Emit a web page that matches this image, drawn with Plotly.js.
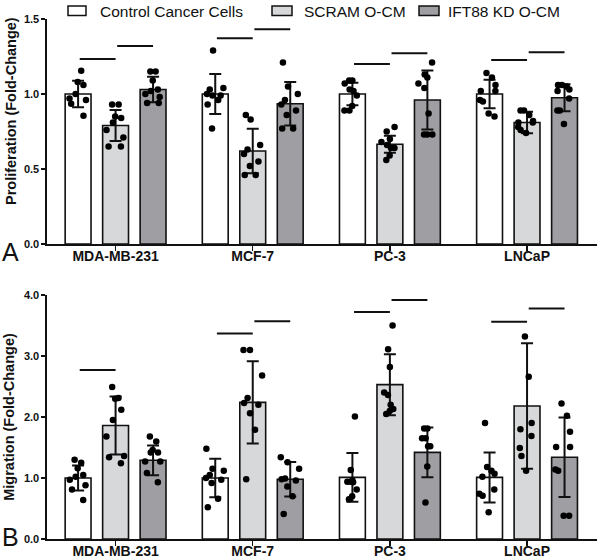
<!DOCTYPE html>
<html>
<head>
<meta charset="utf-8">
<script src="https://cdn.plot.ly/plotly-3.0.1.min.js"></script>
<style>
  html, body { margin: 0; padding: 0; background: #ffffff; }
  #chart { width: 600px; height: 560px; }
</style>
</head>
<body>
<div id="chart"></div>
<script>
// ---------------- DATA ----------------
const categories = ['MDA-MB-231', 'MCF-7', 'PC-3', 'LNCaP'];
const seriesNames = ['Control Cancer Cells', 'SCRAM O-CM', 'IFT88 KD O-CM'];

// Panel A: Proliferation (Fold-Change)
const prolifCtrlMean  = [1.00, 1.00, 1.00, 1.00];
const prolifScramMean = [0.79, 0.62, 0.665, 0.81];
const prolifIftMean   = [1.03, 0.935, 0.96, 0.975];
const prolifCtrlSD    = [0.089, 0.133, 0.075, 0.095];
const prolifScramSD   = [0.103, 0.148, 0.056, 0.072];
const prolifIftSD     = [0.085, 0.145, 0.196, 0.090];

const prolifCtrlPts = [
  [1.155, 1.08, 1.06, 1.0, 0.97, 0.96, 0.935, 0.855],
  [1.29, 1.04, 1.03, 1.0, 0.99, 0.99, 0.96, 0.93, 0.77],
  [1.09, 1.09, 1.07, 1.03, 1.02, 0.99, 0.92, 0.89, 0.89],
  [1.14, 1.11, 1.06, 1.02, 1.02, 0.96, 0.95, 0.87, 0.85]
];
const prolifScramPts = [
  [0.93, 0.93, 0.85, 0.84, 0.81, 0.76, 0.71, 0.65, 0.65],
  [0.86, 0.83, 0.66, 0.63, 0.60, 0.55, 0.52, 0.46, 0.46],
  [0.78, 0.75, 0.70, 0.68, 0.66, 0.64, 0.64, 0.59, 0.56],
  [0.89, 0.89, 0.86, 0.82, 0.81, 0.81, 0.78, 0.76, 0.74]
];
const prolifIftPts = [
  [1.15, 1.15, 1.09, 1.03, 1.02, 1.0, 0.98, 0.94, 0.94],
  [1.21, 1.05, 1.0, 0.96, 0.93, 0.89, 0.86, 0.77, 0.77],
  [1.21, 1.13, 1.11, 1.07, 1.04, 0.87, 0.73, 0.73, 0.73],
  [1.06, 1.06, 1.05, 1.03, 1.02, 0.97, 0.89, 0.89, 0.80]
];

// Panel B: Migration (Fold-Change)
const migCtrlMean  = [1.00, 1.00, 1.01, 1.01];
const migScramMean = [1.86, 2.24, 2.53, 2.18];
const migIftMean   = [1.29, 0.98, 1.42, 1.34];
const migCtrlSD    = [0.205, 0.314, 0.400, 0.410];
const migScramSD   = [0.475, 0.674, 0.500, 1.030];
const migIftSD     = [0.243, 0.284, 0.407, 0.651];

const migCtrlPts = [
  [1.30, 1.25, 1.16, 1.05, 1.02, 0.97, 0.88, 0.81, 0.64],
  [1.48, 1.15, 1.12, 1.05, 1.00, 0.97, 0.92, 0.66, 0.52],
  [2.01, 1.13, 0.96, 0.94, 0.94, 0.93, 0.81, 0.70, 0.65],
  [1.90, 1.18, 1.12, 1.07, 1.02, 0.81, 0.74, 0.71, 0.44]
];
const migScramPts = [
  [2.49, 2.31, 2.30, 2.12, 1.95, 1.68, 1.36, 1.34, 1.24],
  [3.10, 3.10, 2.68, 2.31, 2.23, 2.20, 2.06, 1.79, 0.98],
  [3.50, 3.11, 2.82, 2.40, 2.36, 2.20, 2.13, 2.10, 2.05],
  [3.32, 2.66, 1.90, 1.80, 1.69, 1.49, 1.36, 1.12]
];
const migIftPts = [
  [1.68, 1.60, 1.46, 1.42, 1.42, 1.27, 1.27, 1.08, 0.93],
  [1.34, 1.26, 1.15, 0.99, 0.98, 0.96, 0.86, 0.70, 0.41],
  [1.81, 1.81, 1.65, 1.65, 1.52, 1.52, 1.19, 0.60],
  [2.22, 2.02, 1.76, 1.51, 1.51, 1.14, 1.12, 0.38, 0.38]
];

// Significance bars: group index, from-series, to-series, height
const sigAGroup = [0, 0, 1, 1, 2, 2, 3, 3];
const sigAFrom  = [0, 1, 0, 1, 0, 1, 0, 1];
const sigATo    = [1, 2, 1, 2, 1, 2, 1, 2];
const sigAY     = [1.233, 1.32, 1.371, 1.431, 1.20, 1.271, 1.227, 1.278];

const sigBGroup = [0, 1, 1, 2, 2, 3, 3];
const sigBFrom  = [0, 0, 1, 0, 1, 0, 1];
const sigBTo    = [1, 1, 2, 1, 2, 1, 2];
const sigBY     = [2.77, 3.37, 3.57, 3.72, 3.92, 3.56, 3.78];

const yTicksA = [0, 0.5, 1.0, 1.5];
const yTicksB = [0, 1, 2, 3, 4];

// ---------------- STYLE ----------------
const FONT = '"Liberation Sans", Arial, Helvetica, sans-serif';
const fills = ['#ffffff', '#d7d8da', '#9e9ea3'];
const BARGAP = 0.18, BARGROUPGAP = 0.31;
const ML = 47, MR = 3, MT = 19, MB = 21, W = 600, H = 560;
const PW = W - ML - MR, PH = H - MT - MB;
const px2x = p => (p - ML) / PW;
const px2y = p => (H - MB - p) / PH;

const traces = [];
function addPanel(means, sds, pts, xa, ya, ag) {
  for (let s = 0; s < 3; s++) {
    traces.push({
      type: 'bar', x: categories, y: means[s], name: seriesNames[s],
      xaxis: xa, yaxis: ya, offsetgroup: 'g' + s, alignmentgroup: ag,
      marker: { color: fills[s], line: { color: '#111', width: 1.6 } },
      error_y: { type: 'data', array: sds[s], visible: true, color: '#111', thickness: 2, width: 6 },
      showlegend: false, hoverinfo: 'skip'
    });
  }
  for (let s = 0; s < 3; s++) {
    const xs = [], ys = [];
    pts[s].forEach((arr, g) => arr.forEach(v => { xs.push(categories[g]); ys.push(v); }));
    traces.push({
      type: 'box', x: xs, y: ys, name: seriesNames[s],
      xaxis: xa, yaxis: ya, offsetgroup: 'g' + s, alignmentgroup: ag,
      boxpoints: 'all', jitter: 0.85, pointpos: 0,
      fillcolor: 'rgba(0,0,0,0)', line: { color: 'rgba(0,0,0,0)', width: 0 },
      marker: { color: '#000', size: 6.5, line: { width: 0 } },
      showlegend: false, hoverinfo: 'skip'
    });
  }
}
addPanel([prolifCtrlMean, prolifScramMean, prolifIftMean],
         [prolifCtrlSD, prolifScramSD, prolifIftSD],
         [prolifCtrlPts, prolifScramPts, prolifIftPts], 'x', 'y', 'A');
addPanel([migCtrlMean, migScramMean, migIftMean],
         [migCtrlSD, migScramSD, migIftSD],
         [migCtrlPts, migScramPts, migIftPts], 'x2', 'y2', 'B');

// significance lines from the group layout
const slot = (1 - BARGAP) / 3;
const shapes = [];
function addSig(groups, from, to, ys, xref, yref) {
  for (let i = 0; i < groups.length; i++) {
    shapes.push({
      type: 'line', xref: xref, yref: yref,
      x0: groups[i] + (from[i] - 1) * slot + 0.012,
      x1: groups[i] + (to[i] - 1) * slot,
      y0: ys[i], y1: ys[i],
      line: { color: '#111', width: 2 }
    });
  }
}
addSig(sigAGroup, sigAFrom, sigATo, sigAY, 'x', 'y');
addSig(sigBGroup, sigBFrom, sigBTo, sigBY, 'x2', 'y2');

// manual legend
const legBoxes = [[68, 86], [272, 292], [419, 439]];
const legText = [99, 303, 447];
const annotations = [];
for (let s = 0; s < 3; s++) {
  shapes.push({
    type: 'rect', xref: 'paper', yref: 'paper',
    x0: px2x(legBoxes[s][0]), x1: px2x(legBoxes[s][1]),
    y0: px2y(15.5), y1: px2y(6),
    fillcolor: fills[s], line: { color: '#111', width: 1.5 }
  });
  annotations.push({
    xref: 'paper', yref: 'paper', x: px2x(legText[s] - 1), y: px2y(11),
    xanchor: 'left', yanchor: 'middle', showarrow: false,
    text: seriesNames[s], font: { family: FONT, size: 15.5, color: '#111' }
  });
}
annotations.push({
  xref: 'paper', yref: 'paper', x: px2x(0), y: px2y(252),
  xanchor: 'left', yanchor: 'middle', showarrow: false,
  text: 'A', font: { family: FONT, size: 25, color: '#111' }
});
annotations.push({
  xref: 'paper', yref: 'paper', x: px2x(0), y: px2y(537),
  xanchor: 'left', yanchor: 'middle', showarrow: false,
  text: 'B', font: { family: FONT, size: 25, color: '#111' }
});
annotations.push({
  xref: 'paper', yref: 'paper', x: px2x(11), y: px2y(111),
  xanchor: 'center', yanchor: 'middle', showarrow: false, textangle: -90,
  text: 'Proliferation (Fold-Change)',
  font: { family: FONT, size: 14.5, color: '#111', weight: 'bold' }
});

const xCommon = {
  type: 'category', range: [-0.5, 3.51], domain: [0, 1],
  showline: true, linecolor: '#111', linewidth: 1.6,
  ticks: 'outside', ticklen: 5, tickwidth: 1.5, tickcolor: '#111',
  ticklabelstandoff: -6,
  showgrid: false, zeroline: false, fixedrange: true,
  tickfont: { family: FONT, size: 14, color: '#111', weight: 'bold' }
};
const yCommon = {
  showline: true, linecolor: '#111', linewidth: 1.6,
  ticks: 'outside', ticklen: 4, tickwidth: 1.5, tickcolor: '#111',
  showgrid: false, zeroline: false, tickformat: '.1f', fixedrange: true,
  tickfont: { family: FONT, size: 11, color: '#111', weight: 'bold' }
};
const topBottom = px2y(244);
const botTop = px2y(295);

const layout = {
  width: W, height: H,
  margin: { l: ML, r: MR, t: MT, b: MB, pad: 0 },
  paper_bgcolor: '#ffffff', plot_bgcolor: '#ffffff',
  font: { family: FONT, color: '#111' },
  barmode: 'group', bargap: BARGAP, bargroupgap: BARGROUPGAP,
  boxmode: 'group', boxgap: BARGAP, boxgroupgap: BARGROUPGAP,
  showlegend: false, hovermode: false,
  xaxis: Object.assign({}, xCommon, { anchor: 'y' }),
  xaxis2: Object.assign({}, xCommon, { anchor: 'y2' }),
  yaxis: Object.assign({}, yCommon, {
    anchor: 'x', domain: [topBottom, 1], range: [0, 1.5], tickvals: yTicksA
  }),
  yaxis2: Object.assign({}, yCommon, {
    anchor: 'x2', domain: [0, botTop], range: [0, 4], tickvals: yTicksB,
    title: { text: 'Migration (Fold-Change)', standoff: 6,
             font: { family: FONT, size: 14.5, color: '#111', weight: 'bold' } }
  }),
  shapes: shapes,
  annotations: annotations
};

Plotly.newPlot('chart', traces, layout, { displayModeBar: false, staticPlot: true });
</script>
</body>
</html>
